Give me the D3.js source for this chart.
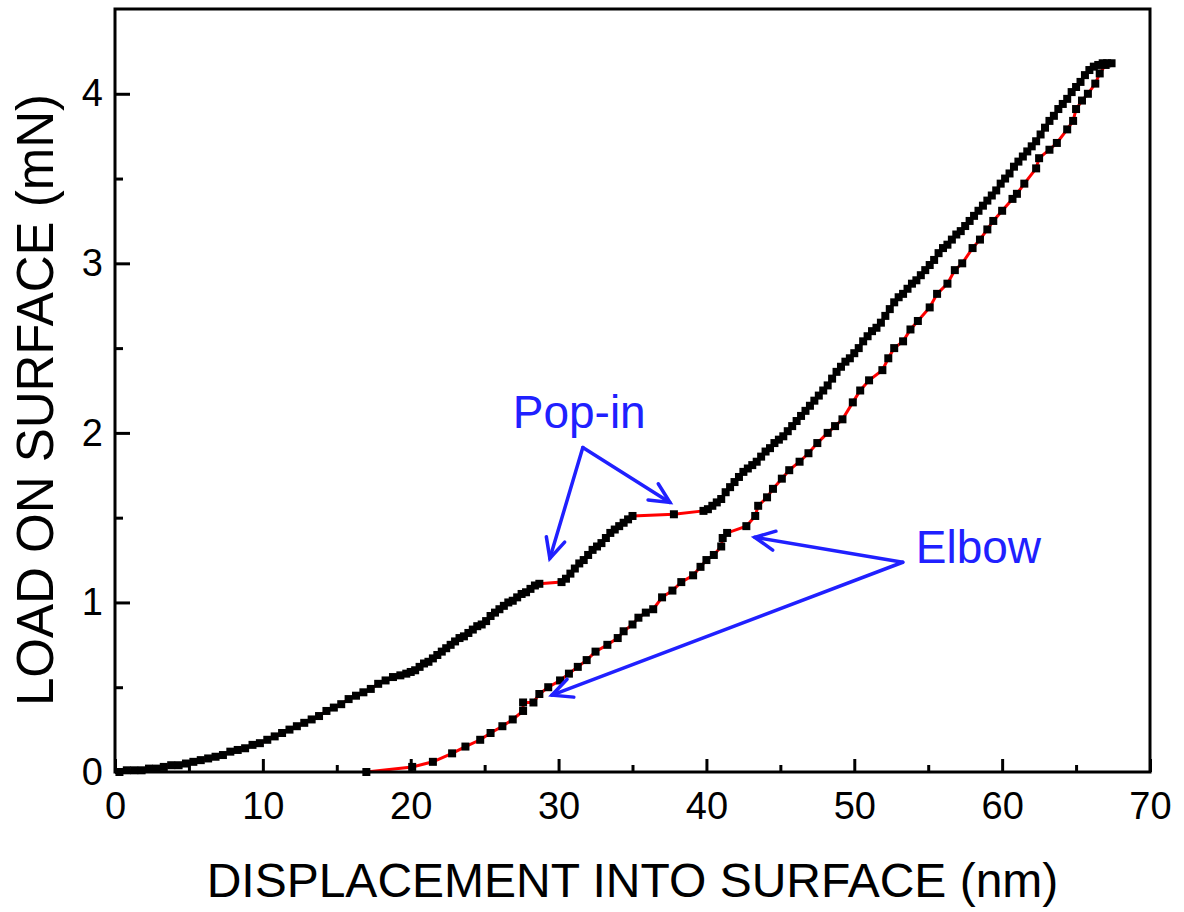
<!DOCTYPE html>
<html>
<head>
<meta charset="utf-8">
<script src="https://cdn.jsdelivr.net/npm/d3@7"></script>
<style>
    html, body { margin: 0; padding: 0; background: #fff; }
    svg { display: block; font-family: "Liberation Sans", Arial, sans-serif; }
</style>
</head>
<body>
<svg id="chart" width="1184" height="912"></svg>
<script>
// Loading segment (nm, mN)
const loadX = [0.3, 0.8, 1.3, 1.8, 2.3, 2.8, 3.3, 3.8, 4.3, 4.8, 5.3, 5.8, 6.3, 6.8, 7.3, 7.8, 8.3, 8.8, 9.3, 9.8,
    10.3, 10.8, 11.3, 11.8, 12.3, 12.8, 13.3, 13.8, 14.3, 14.8, 15.3, 15.8, 16.3, 16.8, 17.3, 17.8, 18.3, 18.8, 19.3, 19.7,
    20.0, 20.3, 20.6, 20.9, 21.2, 21.5, 21.8, 22.1, 22.4, 22.7, 23.0, 23.3, 23.6, 23.9, 24.2, 24.5, 24.8, 25.1, 25.4, 25.7,
    26.0, 26.3, 26.6, 26.9, 27.2, 27.5, 27.8, 28.1, 28.4, 28.7,
    30.2, 30.5, 30.8, 31.1, 31.4, 31.7, 32.0, 32.3, 32.6, 32.9, 33.2, 33.5, 33.8, 34.1, 34.4, 34.7, 35.0,
    37.8,
    39.8, 40.1, 40.4, 40.7, 41.0, 41.3, 41.6, 41.9, 42.2, 42.5, 42.8, 43.1, 43.4, 43.7, 44.0, 44.3, 44.6, 44.9, 45.2, 45.5,
    45.8, 46.1, 46.4, 46.7, 47.0, 47.3, 47.6, 47.9, 48.2, 48.5, 48.8, 49.1, 49.4, 49.7, 50.0, 50.3, 50.6, 50.9, 51.2, 51.5,
    51.8, 52.1, 52.4, 52.7, 53.0, 53.3, 53.6, 53.9, 54.2, 54.5, 54.8, 55.1, 55.4, 55.7, 56.0, 56.3, 56.6, 56.9, 57.2, 57.5,
    57.8, 58.1, 58.4, 58.7, 59.0, 59.3, 59.6, 59.9, 60.2, 60.5, 60.8, 61.1, 61.4, 61.7, 62.0, 62.3, 62.6, 62.9, 63.2, 63.5,
    63.8, 64.1, 64.4, 64.7, 65.0, 65.3, 65.6, 65.9, 66.2, 66.5, 66.8, 67.1, 67.4];
const loadY = [0.00, 0.01, 0.01, 0.01, 0.02, 0.02, 0.03, 0.04, 0.04, 0.05, 0.06, 0.07, 0.08, 0.09, 0.10, 0.12, 0.13, 0.14, 0.16, 0.17,
    0.19, 0.21, 0.23, 0.25, 0.27, 0.29, 0.31, 0.33, 0.36, 0.38, 0.40, 0.43, 0.45, 0.47, 0.49, 0.52, 0.54, 0.56, 0.57, 0.58,
    0.59, 0.60, 0.62, 0.64, 0.65, 0.67, 0.69, 0.71, 0.73, 0.75, 0.77, 0.79, 0.80, 0.82, 0.84, 0.86, 0.87, 0.89, 0.92, 0.94,
    0.96, 0.98, 1.00, 1.01, 1.03, 1.05, 1.06, 1.08, 1.10, 1.11,
    1.12, 1.14, 1.17, 1.20, 1.23, 1.25, 1.28, 1.31, 1.33, 1.35, 1.38, 1.41, 1.43, 1.45, 1.47, 1.49, 1.51,
    1.52,
    1.54, 1.55, 1.57, 1.59, 1.61, 1.65, 1.68, 1.71, 1.74, 1.77, 1.79, 1.81, 1.83, 1.86, 1.89, 1.91, 1.94, 1.96, 1.98, 2.01,
    2.04, 2.07, 2.10, 2.13, 2.16, 2.19, 2.22, 2.25, 2.28, 2.32, 2.36, 2.39, 2.42, 2.44, 2.47, 2.50, 2.54, 2.57, 2.60, 2.62,
    2.65, 2.69, 2.73, 2.77, 2.80, 2.82, 2.85, 2.88, 2.90, 2.93, 2.96, 2.99, 3.02, 3.06, 3.09, 3.11, 3.14, 3.17, 3.19, 3.22,
    3.25, 3.28, 3.31, 3.34, 3.37, 3.40, 3.43, 3.47, 3.50, 3.53, 3.57, 3.60, 3.63, 3.66, 3.69, 3.72, 3.76, 3.80, 3.84, 3.87,
    3.91, 3.94, 3.97, 4.01, 4.04, 4.07, 4.11, 4.14, 4.16, 4.17, 4.18, 4.18, 4.18];

// Unloading segment, from peak load back to zero
const unloadX = [67.0, 66.6, 66.3, 65.8, 65.4, 65.0, 64.8, 64.4, 63.7, 63.2, 62.5, 62.3, 61.5, 61.0, 60.7, 60.0, 59.4, 59.0,
    58.5, 58.0, 57.3, 56.8, 56.3, 55.6, 55.1, 54.3, 53.8, 53.3, 52.7, 52.3, 51.9, 51.0, 50.4, 49.9, 49.2, 48.7, 48.2, 47.5,
    46.9, 46.3, 45.6, 45.1, 44.5, 44.1, 43.5, 43.3, 42.7, 41.4, 41.1, 41.0, 40.5, 40.0, 39.6, 39.1, 38.3, 37.7, 37.0, 36.4,
    35.9, 35.4, 35.0, 34.4, 34.0, 33.3, 32.5, 31.9, 31.3, 30.7, 30.1, 29.3, 28.7, 28.3, 27.6, 27.6, 26.9, 26.2, 25.4, 24.7,
    23.7, 22.8, 21.5, 20.1, 17.0];
const unloadY = [4.17, 4.12, 4.06, 4.00, 3.96, 3.91, 3.84, 3.79, 3.71, 3.67, 3.62, 3.56, 3.47, 3.41, 3.38, 3.31, 3.25, 3.20,
    3.14, 3.09, 3.00, 2.96, 2.88, 2.82, 2.74, 2.66, 2.61, 2.54, 2.50, 2.44, 2.37, 2.31, 2.25, 2.18, 2.08, 2.04, 2.00, 1.94,
    1.88, 1.83, 1.78, 1.73, 1.67, 1.62, 1.57, 1.51, 1.45, 1.41, 1.38, 1.33, 1.28, 1.25, 1.21, 1.16, 1.12, 1.07, 1.03, 0.96,
    0.94, 0.91, 0.87, 0.83, 0.79, 0.75, 0.71, 0.66, 0.62, 0.58, 0.54, 0.50, 0.46, 0.41, 0.41, 0.36, 0.31, 0.27, 0.23, 0.19,
    0.15, 0.11, 0.06, 0.03, 0.00];

// Axis ticks
const xMajor = [0, 10, 20, 30, 40, 50, 60, 70];
const xMinor = [5, 15, 25, 35, 45, 55, 65];
const yMajor = [0, 1, 2, 3, 4];
const yMinor = [0.5, 1.5, 2.5, 3.5];

// Annotations in data units: text anchor, arrow origin, arrow tips
const popinText = { label: 'Pop-in', x: 26.9, y: 2.03 };
const popinFrom = { x: 31.64, y: 1.914 };
const popinTips = [{ x: 29.41, y: 1.26 }, { x: 37.53, y: 1.59 }];
const elbowText = { label: 'Elbow', x: 54.16, y: 1.231 };
const elbowFrom = { x: 53.28, y: 1.237 };
const elbowTips = [{ x: 43.27, y: 1.384 }, { x: 29.55, y: 0.453 }];

const svg = d3.select('#chart');
const plotLeft = 115, plotRight = 1150, plotTop = 9, plotBottom = 772;
const blue = '#2020ff';

const xScale = d3.scaleLinear().domain([0, 70]).range([plotLeft, plotRight]);
const yScale = d3.scaleLinear().domain([0, 4.5]).range([plotBottom, plotTop]);

const points = loadX.map((x, i) => ({ x, y: loadY[i] }))
    .concat(unloadX.map((x, i) => ({ x, y: unloadY[i] })));

// Connecting line (red, shows through gaps)
svg.append('path')
    .datum(points)
    .attr('fill', 'none')
    .attr('stroke', '#ff0000')
    .attr('stroke-width', 3)
    .attr('d', d3.line().x(d => xScale(d.x)).y(d => yScale(d.y)));

// Square markers
const ms = 8;
svg.append('g')
    .selectAll('rect')
    .data(points)
    .enter()
    .append('rect')
    .attr('x', d => xScale(d.x) - ms / 2)
    .attr('y', d => yScale(d.y) - ms / 2)
    .attr('width', ms)
    .attr('height', ms)
    .attr('fill', '#000');

// Axes (ticks point inward)
function styleAxis(g) {
    g.select('.domain').remove();
    g.selectAll('line').attr('stroke', '#000').attr('stroke-width', 3);
    g.selectAll('text').attr('fill', '#000').style('font-size', '38px')
        .style('font-family', '"Liberation Sans", Arial, sans-serif');
}

svg.append('g')
    .attr('transform', `translate(0,${plotBottom})`)
    .call(d3.axisBottom(xScale).tickValues(xMajor).tickSize(-13).tickPadding(20).tickFormat(d3.format('d')))
    .call(styleAxis);
svg.append('g')
    .attr('transform', `translate(0,${plotBottom})`)
    .call(d3.axisBottom(xScale).tickValues(xMinor).tickSize(-7).tickFormat(''))
    .call(styleAxis);
svg.append('g')
    .attr('transform', `translate(${plotLeft},0)`)
    .call(d3.axisLeft(yScale).tickValues(yMajor).tickSize(-15).tickPadding(12).tickFormat(d3.format('d')))
    .call(styleAxis);
svg.append('g')
    .attr('transform', `translate(${plotLeft},0)`)
    .call(d3.axisLeft(yScale).tickValues(yMinor).tickSize(-8).tickFormat(''))
    .call(styleAxis);

// Frame
svg.append('rect')
    .attr('x', plotLeft)
    .attr('y', plotTop)
    .attr('width', plotRight - plotLeft)
    .attr('height', plotBottom - plotTop)
    .attr('fill', 'none')
    .attr('stroke', '#000')
    .attr('stroke-width', 3);

// Axis titles
svg.append('text')
    .attr('x', (plotLeft + plotRight) / 2)
    .attr('y', 897)
    .attr('text-anchor', 'middle')
    .style('font-size', '48px')
    .text('DISPLACEMENT INTO SURFACE (nm)');

svg.append('text')
    .attr('transform', `translate(53,400) rotate(-90)`)
    .attr('text-anchor', 'middle')
    .style('font-size', '51px')
    .text('LOAD ON SURFACE (mN)');

// Arrow with open V head
function arrow(from, to) {
    const x1 = xScale(from.x), y1 = yScale(from.y);
    const x2 = xScale(to.x), y2 = yScale(to.y);
    const ang = Math.atan2(y2 - y1, x2 - x1);
    const len = 22, spread = 0.45;
    const g = svg.append('g')
        .attr('stroke', blue)
        .attr('stroke-width', 3.5)
        .attr('stroke-linecap', 'round')
        .attr('fill', 'none');
    g.append('line').attr('x1', x1).attr('y1', y1).attr('x2', x2).attr('y2', y2);
    g.append('path').attr('d',
        `M${x2 - len * Math.cos(ang - spread)},${y2 - len * Math.sin(ang - spread)}` +
        `L${x2},${y2}` +
        `L${x2 - len * Math.cos(ang + spread)},${y2 - len * Math.sin(ang + spread)}`);
}

[[popinText, popinFrom, popinTips], [elbowText, elbowFrom, elbowTips]].forEach(([t, from, tips]) => {
    svg.append('text')
        .attr('x', xScale(t.x))
        .attr('y', yScale(t.y))
        .attr('fill', blue)
        .style('font-size', '46px')
        .text(t.label);
    tips.forEach(tip => arrow(from, tip));
});
</script>
</body>
</html>
